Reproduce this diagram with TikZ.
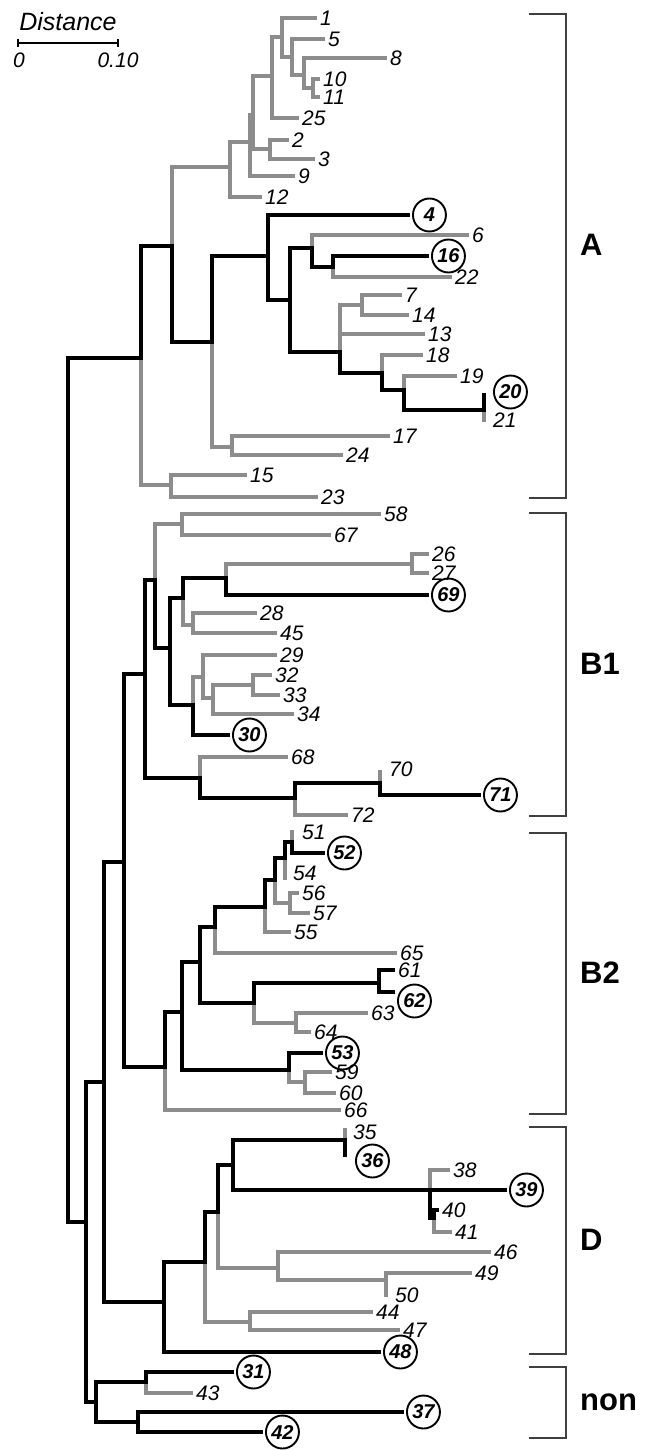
\documentclass[tikz,border=0pt]{standalone}
\usepackage{fontspec}
\setmainfont{Liberation Sans}

\begin{document}
\begin{tikzpicture}[
    x=1pt, y=-1pt,
    % branch styles
    gbr/.style={draw=black!45, line width=3.3pt, line cap=rect},
    bbr/.style={draw=black, line width=4.3pt, line cap=rect},
    % label styles
    lab/.style={anchor=west, inner sep=0pt, xshift=5pt, font=\fontsize{21}{22}\selectfont\itshape},
    hit/.style={circle, draw, line width=1.9pt, inner sep=0pt, minimum size=33pt, anchor=west, xshift=4pt, font=\fontsize{20}{22}\selectfont\bfseries\itshape},
    grp/.style={anchor=west, inner sep=0pt, font=\fontsize{31}{32}\selectfont\bfseries},
    brk/.style={draw=black!75, line width=1.5pt},
]
\useasboundingbox (0,0) rectangle (656,1450);

% scale bar
\coordinate (s0) at (18,43);
\coordinate (s1) at (118,43);
\draw[line width=1.6pt] (s0) -- (s1);
\draw[line width=1.6pt] ([yshift=4pt]s0) -- ([yshift=-4pt]s0);
\draw[line width=1.6pt] ([yshift=4pt]s1) -- ([yshift=-4pt]s1);
\node[font=\fontsize{25}{26}\selectfont\itshape] (dist) at (68,22) {Distance};
\node[font=\fontsize{21}{22}\selectfont\itshape] (s0l) at (19,60) {0};
\node[font=\fontsize{21}{22}\selectfont\itshape] (s1l) at (118,60) {0.10};

% backbone
\coordinate (r0) at (68,790);
\coordinate (m0) at (86,1222);
\coordinate (m1) at (104,1082);
\coordinate (m2) at (124,862);

% cluster A
\coordinate (a0) at (141,358);  \coordinate (a1) at (172,246);
\coordinate (a2) at (230,167);  \coordinate (a3) at (250,142);
\coordinate (a4) at (253,115);  \coordinate (a5) at (272,76);
\coordinate (a6) at (282,37);   \coordinate (a7) at (292,57);
\coordinate (a8) at (304,75);   \coordinate (a9) at (313,88);
\coordinate (a10) at (270,149); \coordinate (a11) at (212,342);
\coordinate (a12) at (232,447); \coordinate (a13) at (268,256);
\coordinate (a14) at (290,300); \coordinate (a15) at (312,248);
\coordinate (a16) at (333,267); \coordinate (a17) at (340,352);
\coordinate (a18) at (362,305); \coordinate (a19) at (382,373);
\coordinate (a20) at (404,390); \coordinate (a21) at (484,410);
\coordinate (a22) at (171,485);

% cluster B1
\coordinate (b0) at (145,674);  \coordinate (b1) at (155,580);
\coordinate (b2) at (182,524);  \coordinate (b3) at (170,648);
\coordinate (b4) at (183,598);  \coordinate (b5) at (226,578);
\coordinate (b6) at (412,564);  \coordinate (b7) at (193,625);
\coordinate (b8) at (193,705);  \coordinate (b9) at (203,677);
\coordinate (b10) at (213,698); \coordinate (b11) at (253,685);
\coordinate (b12) at (200,778); \coordinate (b13) at (295,798);
\coordinate (b14) at (380,783);

% cluster B2
\coordinate (c0) at (165,1067); \coordinate (c1) at (182,1012);
\coordinate (c2) at (289,1070); \coordinate (c3) at (305,1082);
\coordinate (c4) at (200,962);  \coordinate (c5) at (254,1003);
\coordinate (c6) at (379,983);  \coordinate (c7) at (296,1023);
\coordinate (c8) at (215,927);  \coordinate (c9) at (265,907);
\coordinate (c10) at (275,880); \coordinate (c11) at (290,903);
\coordinate (c12) at (285,858); \coordinate (c13) at (292,842);

% cluster D
\coordinate (d0) at (164,1302); \coordinate (d1) at (205,1262);
\coordinate (d2) at (218,1212); \coordinate (d3) at (233,1165);
\coordinate (d4) at (345,1140); \coordinate (d5) at (430,1190);
\coordinate (d6) at (434,1218); \coordinate (d7) at (278,1268);
\coordinate (d8) at (386,1280); \coordinate (d9) at (250,1322);

% non-typeable
\coordinate (e0) at (96,1402);
\coordinate (e1) at (146,1382);
\coordinate (e2) at (138,1422);

% isolate tips
\foreach \n/\x/\y in {1/315/18, 5/323/39, 8/385/58, 10/318/79, 11/318/97,
    25/297/118, 2/287/140, 3/313/159, 9/293/176, 12/260/197, 4/408/215,
    6/467/235, 16/427/256, 22/450/277, 7/400/295, 14/407/315, 13/423/334,
    18/421/355, 19/455/376, 20/484/395, 21/484/420, 17/388/436, 24/341/455,
    15/245/475, 23/316/497,
    58/379/514, 67/329/535, 26/427/554, 27/427/573, 69/427/595, 28/255/613,
    45/275/633, 29/275/655, 32/270/675, 33/278/695, 34/292/714, 30/228/735,
    68/286/757, 70/380/772, 71/479/795, 72/346/815,
    51/292/832, 52/323/853, 54/285/878, 56/297/893, 57/308/913, 55/289/932,
    65/395/953, 61/393/970, 62/393/992, 63/366/1013, 64/309/1032,
    53/321/1053, 59/330/1072, 60/334/1093, 66/339/1110,
    35/345/1130, 36/345/1155, 38/448/1170, 39/505/1190, 40/437/1210,
    41/450/1232, 46/489/1252, 49/470/1273, 50/386/1295, 44/371/1312,
    47/398/1330, 48/379/1352,
    31/232/1372, 43/191/1393, 37/402/1412, 42/261/1432}
    \coordinate (i\n) at (\x,\y);

% grey branches
\foreach \p/\c in {a0/a22, a22/i15, a22/i23, a1/a2, a2/a3, a2/i12, a3/a4,
    a3/i9, a4/a5, a4/a10, a5/a6, a5/i25, a6/i1, a6/a7, a7/i5, a7/a8, a8/i8,
    a8/a9, a9/i10, a9/i11, a10/i2, a10/i3, a11/a12, a12/i17, a12/i24,
    a15/i6, a16/i22, a17/a18, a18/i7, a18/i14, a17/i13, a19/i18, a20/i19,
    a21/i21,
    b1/b2, b2/i58, b2/i67, b5/b6, b6/i26, b6/i27, b4/b7, b7/i28, b7/i45,
    b8/b9, b9/i29, b9/b10, b10/b11, b11/i32, b11/i33, b10/i34, b12/i68,
    b13/i72, b14/i70,
    c0/i66, c2/c3, c3/i59, c3/i60, c5/c7, c7/i63, c7/i64, c8/i65, c9/i55,
    c10/c11, c11/i56, c11/i57, c12/i54, c13/i51,
    d4/i35, d5/i38, d6/i41, d2/d7, d7/i46, d7/d8, d8/i49, d8/i50, d1/d9,
    d9/i44, d9/i47,
    e1/i43}
    \draw[gbr] (\p) |- (\c);

% black branches
\foreach \p/\c in {r0/a0, r0/m0, m0/m1, m0/e0, m1/m2, m1/d0, m2/b0, m2/c0,
    a0/a1, a1/a11, a11/a13, a13/i4, a13/a14, a14/a15, a15/a16, a16/i16,
    a14/a17, a17/a19, a19/a20, a20/a21, a21/i20,
    b0/b1, b1/b3, b3/b4, b4/b5, b5/i69, b3/b8, b8/i30, b0/b12, b12/b13,
    b13/b14, b14/i71,
    c0/c1, c1/c2, c2/i53, c1/c4, c4/c5, c5/c6, c6/i61, c6/i62, c4/c8,
    c8/c9, c9/c10, c10/c12, c12/c13, c13/i52,
    d0/d1, d0/i48, d1/d2, d2/d3, d3/d4, d4/i36, d3/d5, d5/i39, d5/d6,
    d6/i40,
    e0/e1, e1/i31, e0/e2, e2/i37, e2/i42}
    \draw[bbr] (\p) |- (\c);

% isolate numbers
\foreach \n in {1,5,8,10,11,25,2,3,9,12,6,22,7,14,13,18,19,17,24,15,23,
    58,67,26,27,28,45,29,32,33,34,68,72,
    56,57,55,65,61,63,64,59,60,66,
    38,40,41,46,49,44,47,43}
    \node[lab] (l\n) at (i\n) {\n};
\node[lab, xshift=4pt] (l21) at (i21) {21};
\node[lab, xshift=4pt, yshift=3pt] (l70) at (i70) {70};
\node[lab, xshift=5pt] (l51) at (i51) {51};
\node[lab, xshift=3pt, yshift=5pt] (l54) at (i54) {54};
\node[lab, xshift=3pt, yshift=-2pt] (l35) at (i35) {35};
\node[lab, xshift=4pt] (l50) at (i50) {50};

% circled isolates
\foreach \n in {4,16,69,30,71,52,53,39,48,31,37,42}
    \node[hit] (l\n) at (i\n) {\n};
\node[hit, xshift=5pt, yshift=3pt] (l20) at (i20) {20};
\node[hit, xshift=6pt, yshift=-6pt] (l36) at (i36) {36};
\node[hit, yshift=-9pt] (l62) at (i62) {62};

% cluster brackets
\foreach \t/\b/\n/\ly in {14/498/A/245, 513/816/B1/664, 833/1114/B2/973,
    1127/1354/D/1240, 1367/1438/non/1402} {
    \draw[brk] (529,\t) -| (566,\b) -- (529,\b);
    \node[grp] (g\n) at (580,\ly) {\n};
}

\end{tikzpicture}
\end{document}
